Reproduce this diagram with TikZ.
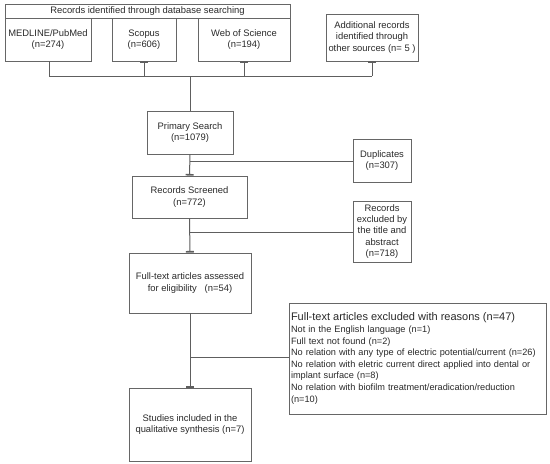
\documentclass[tikz,border=0pt]{standalone}
\usepackage{fontspec}
\setmainfont{Liberation Sans}
\usetikzlibrary{arrows.meta}
\definecolor{boxgray}{HTML}{666666}
\definecolor{linegray}{HTML}{5E5E5E}
\definecolor{txt}{HTML}{2A2A2A}
\begin{document}
\begin{tikzpicture}[x=1pt,y=-1pt,
  box/.style={draw=boxgray, line width=0.9pt, align=center, inner sep=1pt,
    text=txt, font=\fontsize{9.4}{11.4}\selectfont},
  conn/.style={draw=linegray, line width=1pt},
  tick/.style={-{Bar[width=8pt,line width=1.6pt]}},
  tickstart/.style={{Bar[width=8pt,line width=1.6pt]}-}]
\path[fill=white] (0,0) rectangle (550,464);
\useasboundingbox (0,0) rectangle (550,464);
% top row
\node[box, minimum width=285pt, minimum height=14pt] (hdr) at (147.5,11) {Records identified through database searching};
\node[box, minimum width=86pt, minimum height=43pt] (med) at (48,39.5) {MEDLINE/PubMed\\(n=274)};
\node[box, minimum width=64pt, minimum height=43pt] (sco) at (144,39.5) {Scopus\\(n=606)};
\node[box, minimum width=92pt, minimum height=43pt] (wos) at (244,39.5) {Web of Science\\(n=194)};
\node[box, minimum width=92pt, minimum height=47pt] (add) at (372,37.5) {Additional records\\identified through\\other sources (n= 5 )};
% main column
\node[box, minimum width=86pt, minimum height=43pt] (pri) at (190,132.5) {Primary Search\\(n=1079)};
\node[box, minimum width=58pt, minimum height=43pt] (dup) at (382,160.5) {Duplicates\\(n=307)};
\node[box, minimum width=115pt, minimum height=42pt] (scr) at (189.5,197) {Records Screened\\(n=772)};
\node[box, minimum width=58pt, minimum height=61pt] (exc) at (382,231.5) {Records\\excluded by\\the title and\\abstract\\(n=718)};
\node[box, minimum width=122pt, minimum height=60pt] (ft) at (190,283) {Full-text articles assessed\\for eligibility\ \ \ (n=54)};
\node[box, minimum width=257pt, minimum height=111pt, text width=253pt, align=left, inner sep=2pt, font=\fontsize{9.2}{11.6}\selectfont] (rea) at (417.5,358.5) {{\fontsize{11}{14}\selectfont Full-text articles excluded with reasons (n=47)}\\
Not in the English language (n=1)\\
Full text not found (n=2)\\
No relation with any type of electric potential/current (n=26)\\
No relation with eletric current direct applied into dental or\\
implant surface (n=8)\\
No relation with biofilm treatment/eradication/reduction\\
(n=10)};
\node[box, minimum width=122pt, minimum height=73pt] (stu) at (190,424.5) {Studies included in the\\qualitative synthesis (n=7)};
% connectors
\coordinate (jl) at (49,76);
\coordinate (jr) at (372,76);
\coordinate (jc) at (190,76);
\draw[conn] (med.south -| jl) -- (jl) -- (jr);
\draw[conn, tickstart] (sco.south) -- (sco.south |- jl);
\draw[conn, tickstart] (wos.south) -- (wos.south |- jl);
\draw[conn, tickstart] (add.south) -- (jr);
\draw[conn] (jc) -- (pri.north);
\draw[conn, tick] (pri.south) -- (scr.north);
\coordinate (b1) at (190,161);
\draw[conn] (b1) -- (dup.west |- b1);
\draw[conn, tick] (scr.south) -- (ft.north);
\coordinate (b2) at (190,232);
\draw[conn] (b2) -- (exc.west |- b2);
\draw[conn, tick] (ft.south) -- (stu.north);
\coordinate (b3) at (190,357);
\draw[conn] (b3) -- (rea.west |- b3);
\end{tikzpicture}
\end{document}
